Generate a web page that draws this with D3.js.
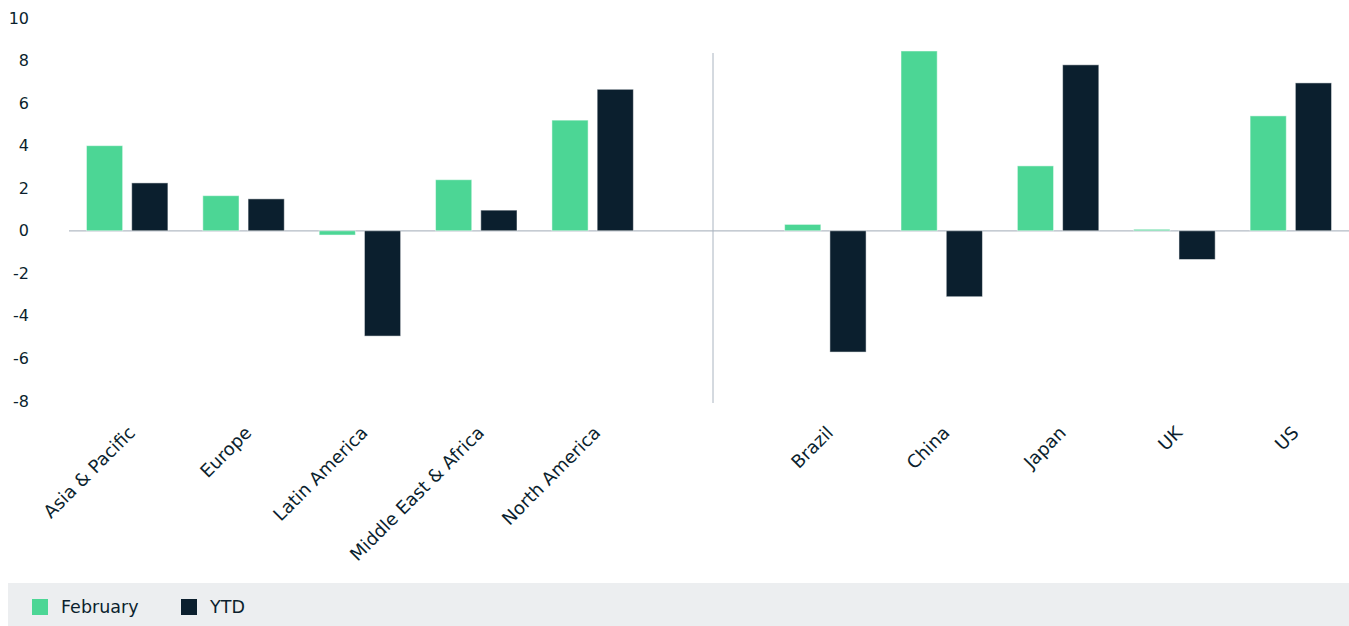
<!DOCTYPE html>
<html>
<head>
<meta charset="utf-8">
<script src="https://cdn.jsdelivr.net/npm/d3@7"></script>
<style>
  body { margin: 0; background: #fff; }
  svg text { font-family: "DejaVu Sans", sans-serif; fill: #0b1f2e; }
</style>
</head>
<body>
<svg width="1349" height="626"></svg>
<script>
const regions = ["Asia & Pacific", "Europe", "Latin America", "Middle East & Africa", "North America"]
const countries = ["Brazil", "China", "Japan", "UK", "US"]
const series = ["February", "YTD"]

const februaryRegions = [4.0, 1.65, -0.2, 2.4, 5.2]
const ytdRegions = [2.25, 1.5, -4.95, 0.97, 6.65]
const februaryCountries = [0.3, 8.45, 3.05, 0.07, 5.4]
const ytdCountries = [-5.7, -3.1, 7.8, -1.35, 6.95]

const yTicks = [10, 8, 6, 4, 2, 0, -2, -4, -6, -8]

const colors = { February: "#4cd695", YTD: "#0b1f2e" }

// one empty slot between the two groups
const slots = [...regions, "__gap", ...countries]
const rows = [
  ...regions.map((name, i) => ({ name, February: februaryRegions[i], YTD: ytdRegions[i] })),
  ...countries.map((name, i) => ({ name, February: februaryCountries[i], YTD: ytdCountries[i] })),
]

const svg = d3.select("svg")
const width = +svg.attr("width")

const x = d3.scaleBand()
  .domain(slots)
  .range([69, width])
  .paddingInner(0.3)
  .paddingOuter(0.15)

const xSub = d3.scaleBand()
  .domain(series)
  .range([0, x.bandwidth()])
  .paddingInner(0.2)

const y = d3.scaleLinear()
  .domain([-8, 10])
  .range([401, 18])

// y tick labels (no axis line)
svg.append("g")
  .selectAll("text")
  .data(yTicks)
  .enter().append("text")
  .attr("x", 29)
  .attr("y", d => y(d))
  .attr("dy", "0.35em")
  .attr("text-anchor", "end")
  .attr("font-size", 16)
  .text(d => d)

// zero line
svg.append("line")
  .attr("x1", 69)
  .attr("x2", width)
  .attr("y1", y(0))
  .attr("y2", y(0))
  .attr("stroke", "#b3bbc5")
  .attr("stroke-width", 1.2)

// divider between regions and countries
const gapX = x("__gap") + x.bandwidth() / 2 + 4
svg.append("line")
  .attr("x1", gapX)
  .attr("x2", gapX)
  .attr("y1", 53)
  .attr("y2", 403)
  .attr("stroke", "#aab4c0")
  .attr("stroke-width", 1)

const groups = svg.append("g")
  .selectAll("g")
  .data(rows)
  .enter().append("g")
  .attr("transform", d => `translate(${x(d.name)},0)`)

groups.selectAll("rect")
  .data(d => series.map(key => ({ key, value: d[key] })))
  .enter().append("rect")
  .attr("x", d => xSub(d.key))
  .attr("width", xSub.bandwidth())
  .attr("y", d => y(Math.max(0, d.value)))
  .attr("height", d => Math.abs(y(d.value) - y(0)))
  .attr("fill", d => colors[d.key])
  .attr("stroke", "#ffffff")
  .attr("stroke-opacity", 0.5)
  .attr("stroke-width", 1)

// rotated category labels
svg.append("g")
  .selectAll("text")
  .data(rows)
  .enter().append("text")
  .attr("transform", d => `translate(${x(d.name) + x.bandwidth() / 2 + 9},434) rotate(-45)`)
  .attr("text-anchor", "end")
  .attr("font-size", 18)
  .text(d => d.name)

// legend
const legend = svg.append("g")
legend.append("rect")
  .attr("x", 8)
  .attr("y", 583)
  .attr("width", width - 8)
  .attr("height", 43)
  .attr("fill", "#eceef0")

const legendX = d3.scalePoint().domain(series).range([32, 181])
const item = legend.selectAll("g.item")
  .data(series)
  .enter().append("g")
  .attr("class", "item")
  .attr("transform", d => `translate(${legendX(d)},599)`)
item.append("rect")
  .attr("width", 16)
  .attr("height", 16)
  .attr("fill", d => colors[d])
item.append("text")
  .attr("x", 29)
  .attr("y", 8)
  .attr("dy", "0.35em")
  .attr("font-size", 17.5)
  .text(d => d)
</script>
</body>
</html>
